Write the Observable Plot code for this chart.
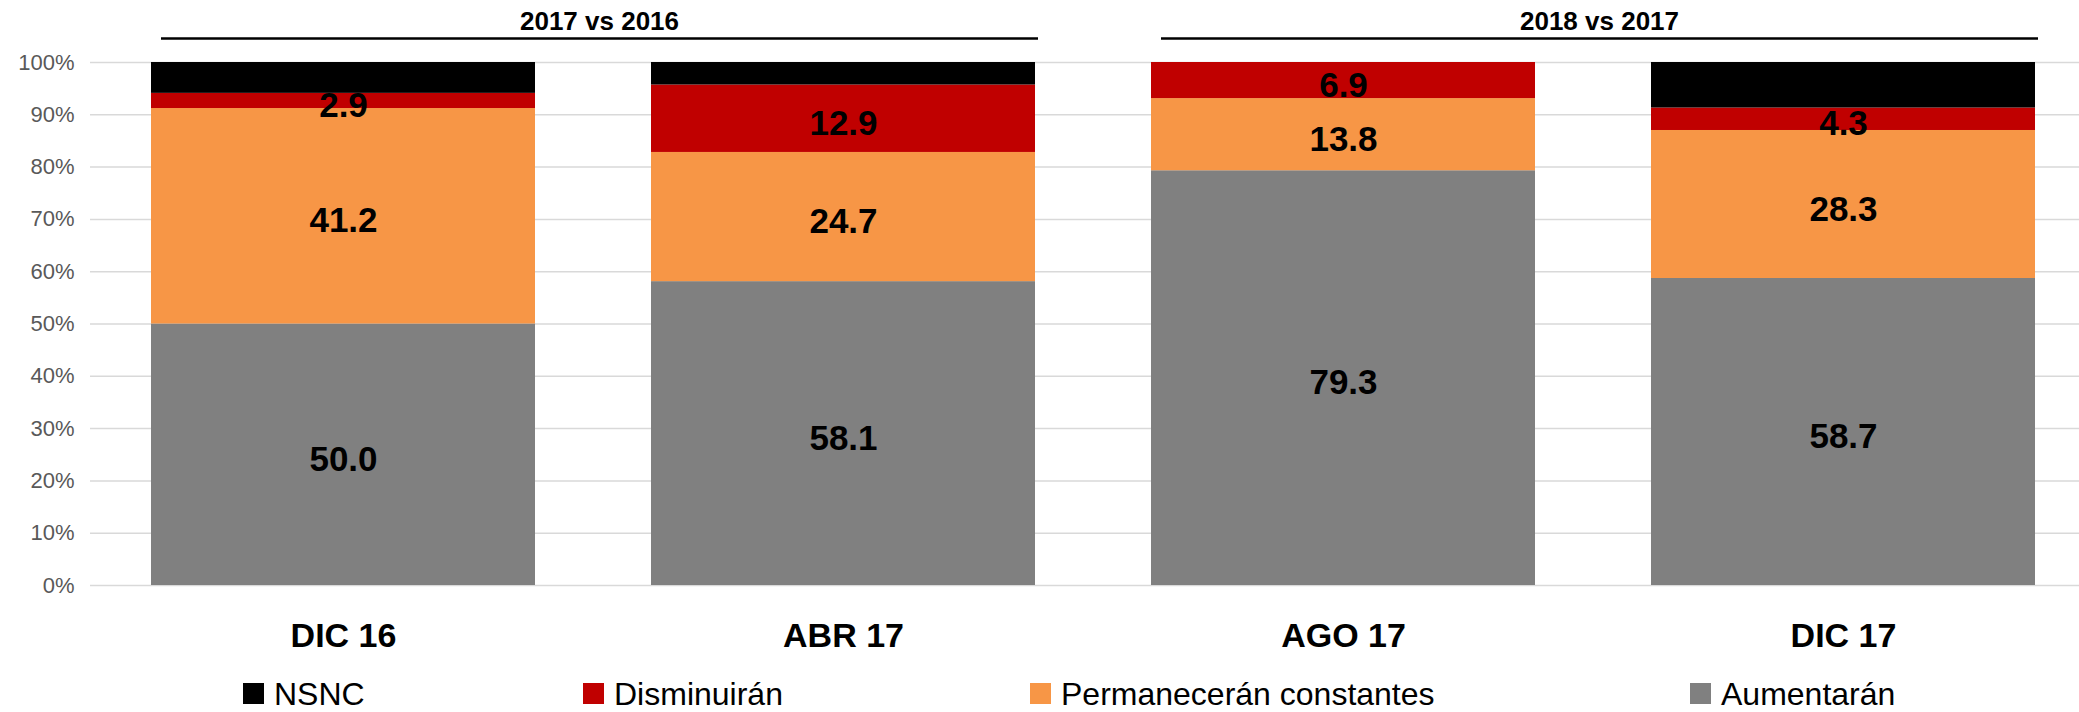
<!DOCTYPE html>
<html><head><meta charset="utf-8">
<script src="https://cdn.jsdelivr.net/npm/d3@7"></script>
<script src="https://cdn.jsdelivr.net/npm/@observablehq/plot@0.6"></script>
<style>
html,body{margin:0;padding:0;background:#fff;}
#wrap{position:relative;width:2079px;height:712px;overflow:hidden;font-family:"Liberation Sans",Arial,sans-serif;background:#fff;}
#chart svg{display:block;}
#legend{position:relative;height:40px;}
.item{position:absolute;top:0;height:40px;}
.sw{position:absolute;left:0;top:11px;width:21px;height:21px;}
.lab{position:absolute;left:31px;top:6px;font-size:32px;line-height:32px;white-space:nowrap;color:#000;}
</style></head><body>
<div id="wrap"><div id="chart"></div><div id="legend"></div></div>
<script>
// ---- data ----
const categories = ["DIC 16", "ABR 17", "AGO 17", "DIC 17"];
const seriesNames = ["Aumentarán", "Permanecerán constantes", "Disminuirán", "NSNC"]; // bottom → top
const aumentaran   = [50.0, 58.1, 79.3, 58.7];
const permaneceran = [41.2, 24.7, 13.8, 28.3];
const disminuiran  = [2.9, 12.9, 6.9, 4.3];
const nsnc         = [5.9, 4.3, 0.0, 8.7];
const yTicks = [0, 10, 20, 30, 40, 50, 60, 70, 80, 90, 100];
const groupLabels = ["2017 vs 2016", "2018 vs 2017"];
const groupFrom = ["DIC 16", "AGO 17"];
const groupTo = ["ABR 17", "DIC 17"];
const legendOrder = ["NSNC", "Disminuirán", "Permanecerán constantes", "Aumentarán"];

// ---- styles ----
const seriesColors = ["#808080", "#F79646", "#C00000", "#000000"];
const legendLeft = [243, 583, 1030, 1690];

const valuesBySeries = [aumentaran, permaneceran, disminuiran, nsnc];
const rows = categories.flatMap((c, i) =>
  seriesNames.map((s, j) => ({cat: c, series: s, value: valuesBySeries[j][i]})));

const chart = Plot.plot({
  width: 2079, height: 672,
  marginLeft: 90, marginRight: 0, marginTop: 62, marginBottom: 87,
  style: {fontFamily: "Liberation Sans, Arial, sans-serif", background: "#fff", color: "#000"},
  x: {domain: categories, range: [92, 2093], paddingInner: 0.233, paddingOuter: 0.1165, align: 0.5, label: null},
  y: {domain: [0, 100], label: null},
  color: {domain: seriesNames, range: seriesColors},
  marks: [
    Plot.gridY(yTicks, {stroke: "#d9d9d9", strokeOpacity: 1, strokeWidth: 1.5}),
    Plot.barY(rows, {x: "cat", y: "value", fill: "series", order: seriesNames}),
    Plot.text(rows, Plot.stackY({
      x: "cat", y: "value", z: "series", order: seriesNames,
      text: d => d.series === "NSNC" ? "" : d.value.toFixed(1),
      fontSize: 35, fontWeight: "bold", fill: "#000", dy: 5
    })),
    Plot.axisY(yTicks, {tickSize: 0, tickPadding: 16, fontSize: 22, fill: "#595959", tickFormat: d => d + "%"}),
    Plot.axisX({tickSize: 0, tickPadding: 37, fontSize: 34, fontWeight: "bold", fill: "#000"})
  ]
});
document.getElementById("chart").appendChild(chart);

// group header drawn from the x scale
const xs = chart.scale("x");
const bw = xs.bandwidth;
const hdr = d3.select(chart).append("g");
groupLabels.forEach((lab, i) => {
  const x1 = xs.apply(groupFrom[i]) + 10;
  const x2 = xs.apply(groupTo[i]) + bw + 3;
  hdr.append("line").attr("x1", x1).attr("x2", x2).attr("y1", 38.5).attr("y2", 38.5)
    .attr("stroke", "#000").attr("stroke-width", 2.5);
  hdr.append("text").attr("x", (x1 + x2) / 2).attr("y", 21).attr("dy", "0.35em")
    .attr("text-anchor", "middle").attr("font-size", 26).attr("font-weight", "bold")
    .attr("fill", "#000").text(lab);
});

// legend
const leg = document.getElementById("legend");
legendOrder.forEach((name, i) => {
  const it = document.createElement("div");
  it.className = "item";
  it.style.left = legendLeft[i] + "px";
  const sw = document.createElement("div");
  sw.className = "sw";
  sw.style.background = seriesColors[seriesNames.indexOf(name)];
  const lb = document.createElement("div");
  lb.className = "lab";
  lb.textContent = name;
  it.appendChild(sw); it.appendChild(lb);
  leg.appendChild(it);
});
</script>
</body></html>
